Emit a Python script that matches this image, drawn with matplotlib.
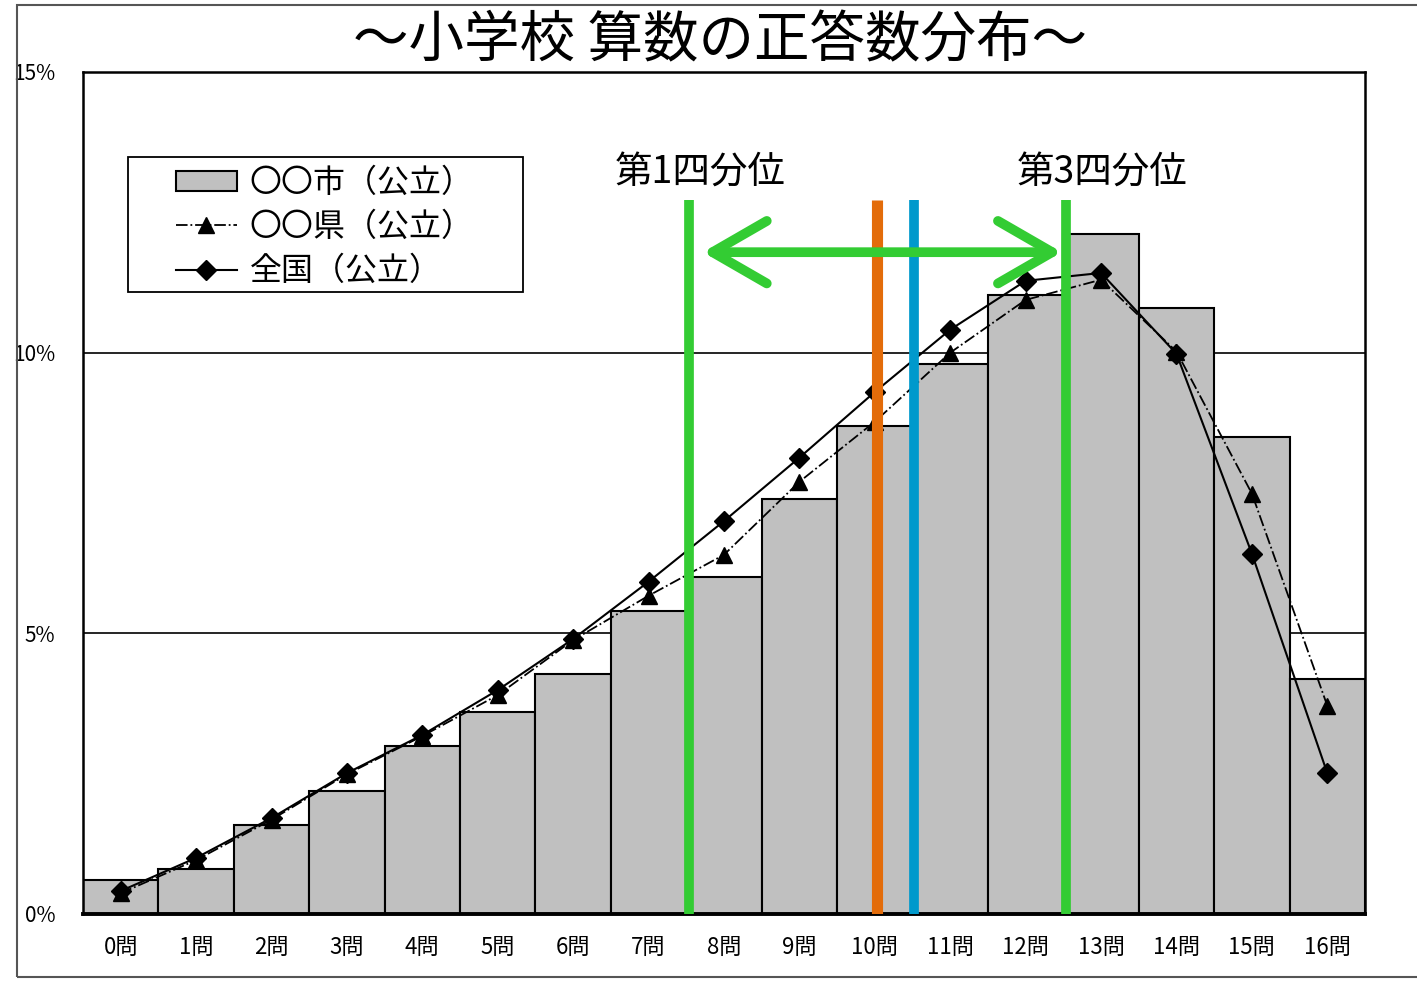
import matplotlib
matplotlib.use('Agg')
import matplotlib.pyplot as plt
from matplotlib.patches import Rectangle

plt.rcParams['font.family'] = ['Noto Sans CJK JP', 'DejaVu Sans']

# 正答数ごとの割合（%）
labels = ['%d問' % i for i in range(17)]
city = [0.61, 0.80, 1.59, 2.19, 2.99, 3.60, 4.28, 5.40, 6.01, 7.40, 8.70, 9.80, 11.02, 12.12, 10.80, 8.50, 4.19]
pref = [0.37, 0.96, 1.68, 2.49, 3.17, 3.90, 4.88, 5.67, 6.40, 7.70, 8.77, 10.00, 10.94, 11.30, 10.02, 7.49, 3.71]
nation = [0.41, 1.00, 1.71, 2.51, 3.19, 3.99, 4.90, 5.92, 7.00, 8.13, 9.30, 10.41, 11.28, 11.42, 9.98, 6.42, 2.51]

# 四分位・中央値・平均の位置（問題数）
q1 = 7.54
q3 = 12.54
median = 10.03
mean = 10.52

green = '#33CC33'
orange = '#E36C0A'
blue = '#0099CC'

W, H = 1417, 982
fig = plt.figure(figsize=(W/100, H/100), dpi=100)
ax = fig.add_axes([83/W, 1-914/H, (1365-83)/W, (914-72)/H])

x = list(range(len(labels)))
b = ax.bar(x, city, width=1.0, color='#C0C0C0', edgecolor='black', linewidth=1.5,
           label='〇〇市（公立）', zorder=2)
l1, = ax.plot(x, pref, linestyle='-.', color='black', linewidth=1.3, marker='^',
              markersize=11, label='〇〇県（公立）', zorder=3)
l2, = ax.plot(x, nation, linestyle='-', color='black', linewidth=1.5, marker='D',
              markersize=10, label='全国（公立）', zorder=4)

# 目盛り線
for v in [5, 10]:
    ax.axhline(v, color='black', linewidth=1.2, zorder=1)

# 四分位などの縦線
top = 12.72
ax.vlines([q1, q3], 0, top, colors=green, linewidth=7, zorder=5)
ax.vlines(median, 0, top, colors=orange, linewidth=8, zorder=5)
ax.vlines(mean, 0, top, colors=blue, linewidth=7, zorder=5)

ax.annotate('', xy=(7.72, 11.79), xytext=(12.48, 11.79),
            arrowprops=dict(arrowstyle='<->,head_length=1.3,head_width=0.75',
                            mutation_scale=30, color=green, lw=7,
                            shrinkA=0, shrinkB=0, capstyle='round',
                            joinstyle='round'),
            zorder=6)
ax.text(7.68, 13.22, '第1四分位', fontsize=27, ha='center', va='center')
ax.text(13.02, 13.22, '第3四分位', fontsize=27, ha='center', va='center')

ax.set_xlim(-0.5, 16.5)
ax.set_ylim(0, 15)
ax.set_xticks(x)
ax.set_xticklabels(labels, fontsize=16)
ax.set_yticks([0, 5, 10, 15])
ax.set_yticklabels(['0%', '5%', '10%', '15%'], fontsize=15)
ax.tick_params(axis='both', length=0)
ax.tick_params(axis='x', pad=16)
ax.tick_params(axis='y', pad=20)
for s in ax.spines.values():
    s.set_linewidth(1.8)
ax.spines['bottom'].set_linewidth(2.8)

# 凡例（枠は別に描く）
aw, ah = 1365 - 83, 914 - 72
ax.add_patch(Rectangle(((128-83)/aw, (914-292)/ah), (523-128)/aw, (292-157)/ah,
                       transform=ax.transAxes, facecolor='white',
                       edgecolor='black', linewidth=1.3, zorder=7))
leg = ax.legend(handles=[b, l1, l2], loc='upper left',
                bbox_to_anchor=((176-83)/aw, (914-167)/ah),
                borderaxespad=0, borderpad=0, fontsize=23, frameon=False,
                handlelength=1.9, handleheight=0.6,
                labelspacing=0.38, handletextpad=0.4)
leg.set_zorder(8)

fig.text(720/W, 1-42/H, '～小学校 算数の正答数分布～', fontsize=40,
         ha='center', va='center')

# 外枠
fig.patches.append(Rectangle((17/W, 1-977/H), 1.0, (977-5)/H,
                             transform=fig.transFigure, fill=False,
                             edgecolor='#555555', linewidth=1.5))

fig.savefig('out.png', dpi=100)
